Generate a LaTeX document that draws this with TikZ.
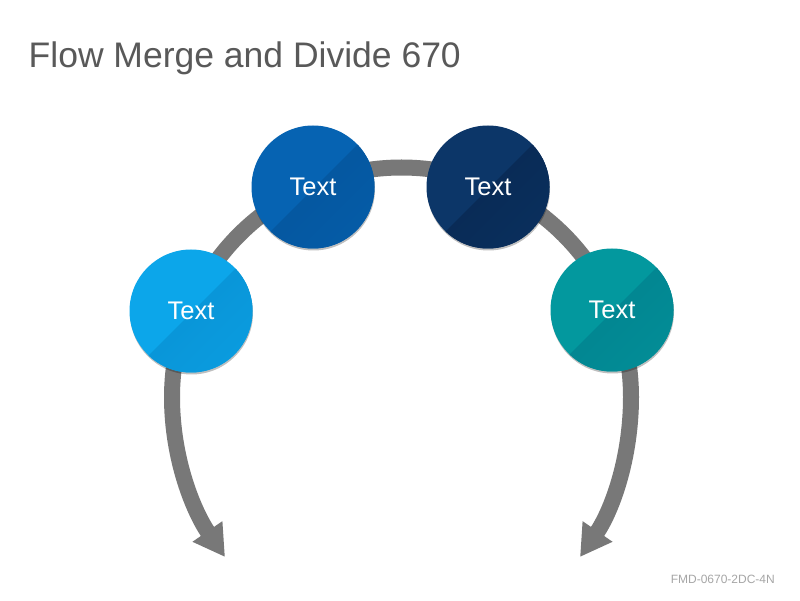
\documentclass[tikz,border=0pt]{standalone}
\usepackage{fontspec}
\setmainfont{Liberation Sans}
\usetikzlibrary{arrows.meta,shadows,calc}
\definecolor{bandgray}{RGB}{120,120,120}
\definecolor{titlegray}{RGB}{89,89,89}
\definecolor{footgray}{RGB}{166,166,166}
\definecolor{cOneL}{RGB}{12,166,234}
\definecolor{cOneD}{RGB}{8,142,208}
\definecolor{cTwoL}{RGB}{6,99,178}
\definecolor{cTwoD}{RGB}{4,82,152}
\definecolor{cThreeL}{RGB}{12,54,104}
\definecolor{cThreeD}{RGB}{7,38,78}
\definecolor{cFourL}{RGB}{3,152,158}
\definecolor{cFourD}{RGB}{2,126,140}
\tikzset{
  bubble/.style n args={2}{circle, minimum size=123pt, inner sep=0pt, fill=#1,
    text=white, font=\fontsize{25.5}{30}\selectfont,
    drop shadow={shadow xshift=0.5pt, shadow yshift=-2pt, opacity=0.25, fill=black},
    path picture={\shade[left color=#2, right color=#2!35!#1, shading angle=45]
      ($(path picture bounding box.center)+(-90pt,-92pt)$) --
      ($(path picture bounding box.center)+(90pt,88pt)$) --
      ($(path picture bounding box.center)+(90pt,-92pt)$) -- cycle;}},
  band/.style={draw=bandgray, line width=16pt,
    {Triangle[width=34pt,length=31pt]}-{Triangle[width=34pt,length=31pt]}},
}
\begin{document}
\begin{tikzpicture}[x=1pt,y=1pt]
\useasboundingbox[fill=white] (0,0) rectangle (800,600);
\node[anchor=base west, inner sep=0pt, text=titlegray, font=\fontsize{35.5}{40}\selectfont] (title) at (28.5,532) {Flow Merge and Divide 670};
\node[anchor=base east, inner sep=0pt, text=footgray, font=\fontsize{12}{14}\selectfont] (foot) at (775,17) {FMD-0670-2DC-4N};
\coordinate (tipL) at (225,43);
\coordinate (tipR) at (580,43);
\draw[band] (tipL) .. controls (194,88) and (172,140) .. (172,203)
  arc[start angle=180, end angle=0, radius=229.5]
  .. controls (631,140) and (611,88) .. (tipR);
\node[bubble={cOneL}{cOneD}] (c1) at (191,289) {Text};
\node[bubble={cTwoL}{cTwoD}] (c2) at (313,413) {Text};
\node[bubble={cThreeL}{cThreeD}] (c3) at (488,413) {Text};
\node[bubble={cFourL}{cFourD}] (c4) at (612,290) {Text};
\end{tikzpicture}
\end{document}
